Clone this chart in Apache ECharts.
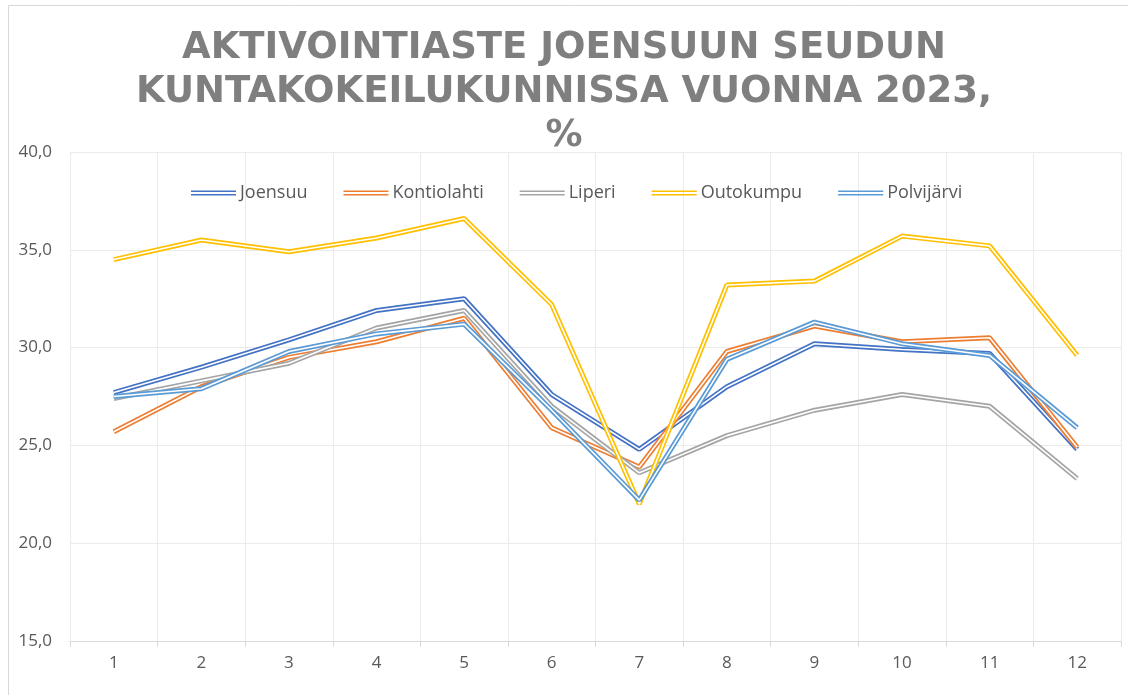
<!DOCTYPE html>
<html>
<head>
<meta charset="utf-8">
<script src="https://cdn.jsdelivr.net/npm/echarts@6/dist/echarts.min.js"></script>
<style>
html,body{margin:0;padding:0;background:#fff;}
#chart{width:1128px;height:695px;}
</style>
</head>
<body>
<div id="chart"></div>
<script>
const months = ['1','2','3','4','5','6','7','8','9','10','11','12'];
const joensuu     = [27.7, 29.0, 30.4, 31.9, 32.5, 27.6, 24.8, 28.0, 30.2, 29.9, 29.7, 24.8];
const kontiolahti = [25.7, 28.0, 29.5, 30.3, 31.5, 25.9, 23.9, 29.8, 31.1, 30.3, 30.5, 24.9];
const liperi      = [27.4, 28.3, 29.2, 31.0, 31.9, 27.0, 23.6, 25.5, 26.8, 27.6, 27.0, 23.3];
const outokumpu   = [34.5, 35.5, 34.9, 35.6, 36.6, 32.2, 22.0, 33.2, 33.4, 35.7, 35.2, 29.6];
const polvijarvi  = [27.5, 27.9, 29.8, 30.7, 31.2, 26.8, 22.2, 29.4, 31.3, 30.2, 29.6, 25.9];
const seriesNames = ['Joensuu','Kontiolahti','Liperi','Outokumpu','Polvijärvi'];
const seriesData = [joensuu, kontiolahti, liperi, outokumpu, polvijarvi];
const colors = ['#4472C4','#ED7D31','#A5A5A5','#FFC000','#5B9BD5'];

const series = [];
seriesNames.forEach((name, i) => {
  series.push({
    name: name, type: 'line', data: seriesData[i], symbol: 'none',
    lineStyle: {color: colors[i], width: 5}, itemStyle: {color: colors[i]},
    z: 2 + i * 2
  });
  series.push({
    name: '_w' + i, type: 'line', data: seriesData[i], symbol: 'none', silent: true,
    lineStyle: {color: '#ffffff', width: 1.6}, itemStyle: {color: '#ffffff'},
    z: 3 + i * 2
  });
});

const chart = echarts.init(document.getElementById('chart'), null, {renderer: 'canvas'});
chart.setOption({
  animation: false,
  backgroundColor: '#ffffff',
  title: {
    text: 'AKTIVOINTIASTE JOENSUUN SEUDUN\nKUNTAKOKEILUKUNNISSA VUONNA 2023,\n%',
    left: 'center', top: 21,
    textStyle: {fontFamily: 'DejaVu Sans', fontWeight: 'bold', fontSize: 37, color: '#7f7f7f', lineHeight: 44}
  },
  legend: {
    data: seriesNames, top: 179, left: 186,
    icon: 'path://M0,0H45V1.6H0Z M0,3.4H45V5H0Z',
    itemWidth: 45, itemHeight: 5, itemGap: 36,
    textStyle: {fontFamily: 'Open Sans', fontSize: 18, color: '#595959', padding: [0,0,0,-1]}
  },
  grid: {left: 70, right: 7, top: 152, bottom: 54, containLabel: false},
  xAxis: {
    type: 'category', data: months, boundaryGap: true,
    axisLine: {lineStyle: {color: '#d9d9d9', width: 1}},
    axisTick: {show: true, length: 6, lineStyle: {color: '#d9d9d9'}},
    axisLabel: {fontFamily: 'Open Sans', fontSize: 17, color: '#595959', margin: 14},
    splitLine: {show: true, lineStyle: {color: '#ebebeb', width: 1}}
  },
  yAxis: {
    type: 'value', min: 15, max: 40, interval: 5,
    axisLine: {show: false}, axisTick: {show: false},
    axisLabel: {fontFamily: 'Open Sans', fontSize: 17, color: '#595959', margin: 18,
      formatter: v => v.toFixed(1).replace('.', ',')},
    splitLine: {lineStyle: {color: '#ebebeb', width: 1}}
  },
  graphic: [{
    type: 'rect', shape: {x: 8.5, y: 5.5, width: 1140, height: 720},
    style: {fill: 'none', stroke: '#d9d9d9', lineWidth: 1}, silent: true, z: 100
  }],
  series: series
});
</script>
</body>
</html>
